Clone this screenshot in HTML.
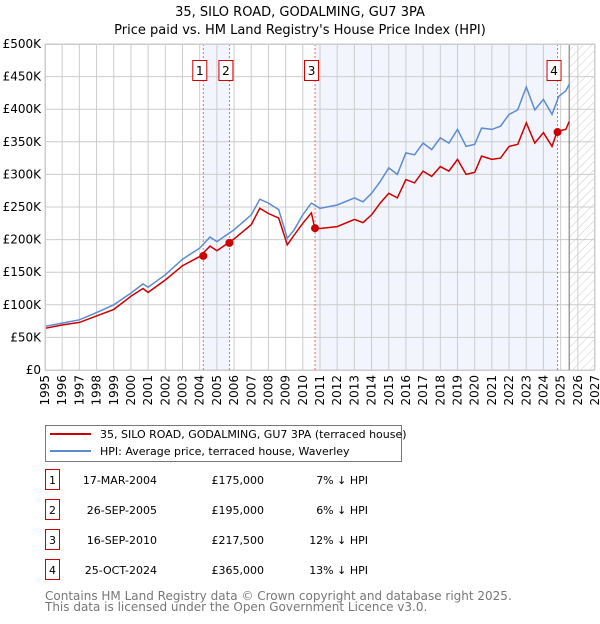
<!DOCTYPE html>
<html><head><meta charset="utf-8"><style>
body{margin:0;background:#fff;font-family:"DejaVu Sans","Liberation Sans",sans-serif;}
svg text{font-family:"DejaVu Sans","Liberation Sans",sans-serif;}
</style></head><body>
<svg id="chart" width="600" height="620" xmlns="http://www.w3.org/2000/svg">
<defs><pattern id="hatch" width="6" height="6" patternUnits="userSpaceOnUse" patternTransform="rotate(45)"><line x1="0" y1="0" x2="0" y2="6" stroke="#ccc" stroke-width="1"/></pattern></defs>
<text x="300" y="16" text-anchor="middle" font-size="13">35, SILO ROAD, GODALMING, GU7 3PA</text>
<text x="300" y="34" text-anchor="middle" font-size="13">Price paid vs. HM Land Registry's House Price Index (HPI)</text>
<g id="plot"></g>
<g>
<rect x="45.5" y="425.5" width="356" height="36" fill="#fff" stroke="#777"/>
<line x1="50" y1="434" x2="91" y2="434" stroke="#cc0000" stroke-width="2"/>
<text x="100" y="438" font-size="11">35, SILO ROAD, GODALMING, GU7 3PA (terraced house)</text>
<line x1="50" y1="451" x2="91" y2="451" stroke="#5b8bd0" stroke-width="2"/>
<text x="100" y="455" font-size="11">HPI: Average price, terraced house, Waverley</text>
</g>
<g id="table"></g>
<text x="45" y="600" font-size="12" fill="#777">Contains HM Land Registry data © Crown copyright and database right 2025.</text>
<text x="45" y="611" font-size="12" fill="#777">This data is licensed under the Open Government Licence v3.0.</text>
</svg>
<script>
const hpiYears=[1995,1996,1997,1998,1999,2000,2000.7,2001,2002,2003,2004,2004.6,2005,2006,2007,2007.5,2008,2008.6,2009.1,2009.5,2010,2010.5,2011,2012,2013,2013.5,2014,2014.5,2015,2015.5,2016,2016.5,2017,2017.5,2018,2018.5,2019,2019.5,2020,2020.4,2021,2021.5,2022,2022.5,2023,2023.5,2024,2024.5,2024.9,2025.3,2025.5];
const hpiValues=[67,72,77,88,100,118,132,127,146,170,187,204,197,215,238,262,256,246,202,215,238,256,248,253,264,258,271,289,310,300,333,330,348,338,356,348,369,343,346,371,369,374,392,399,434,399,415,392,420,428,438];
const paidYears=[1995,1996,1997,1998,1999,2000,2000.7,2001,2002,2003,2004,2004.6,2005,2006,2007,2007.5,2008,2008.6,2009.1,2009.5,2010,2010.5,2010.7,2011,2012,2013,2013.5,2014,2014.5,2015,2015.5,2016,2016.5,2017,2017.5,2018,2018.5,2019,2019.5,2020,2020.4,2021,2021.5,2022,2022.5,2023,2023.5,2024,2024.5,2024.8,2025.3,2025.5];
const paidValues=[64,69,73,83,93,113,125,119,138,160,174,190,183,201,223,248,240,233,192,207,225,241,217,217,220,231,226,238,256,271,264,292,287,305,297,312,305,323,300,303,328,323,325,343,346,379,348,364,343,366,369,381];
const saleLabels=["1","2","3","4"];
const saleYears=[2004.21,2005.73,2010.71,2024.82];
const saleValues=[175,195,217.5,365];
const saleDates=["17-MAR-2004","26-SEP-2005","16-SEP-2010","25-OCT-2024"];
const salePrices=["£175,000","£195,000","£217,500","£365,000"];
const saleDiffs=["7% ↓ HPI","6% ↓ HPI","12% ↓ HPI","13% ↓ HPI"];
const yTicks=[0,50,100,150,200,250,300,350,400,450,500];
const yTickLabels=["£0","£50K","£100K","£150K","£200K","£250K","£300K","£350K","£400K","£450K","£500K"];
const xTicks=[1995,1996,1997,1998,1999,2000,2001,2002,2003,2004,2005,2006,2007,2008,2009,2010,2011,2012,2013,2014,2015,2016,2017,2018,2019,2020,2021,2022,2023,2024,2025,2026,2027];
const dataEnd=2025.5;
const X0=45,X1=595,Y0=370,Y1=44;
const x=v=>X0+(v-1995)/32*(X1-X0);
const y=v=>Y0-v/500*(Y0-Y1);
const NS="http://www.w3.org/2000/svg";
const plot=document.getElementById('plot');
function mk(tag,attrs,parent){const e=document.createElementNS(NS,tag);for(const k in attrs)e.setAttribute(k,attrs[k]);(parent||plot).appendChild(e);return e;}
let s1=mk('rect',{x:x(saleYears[0]),y:Y1,width:x(saleYears[1])-x(saleYears[0]),height:Y0-Y1,fill:'#f2f5fd'});


let s2=mk('rect',{x:x(saleYears[2]),y:Y1,width:x(saleYears[3])-x(saleYears[2]),height:Y0-Y1,fill:'#f2f5fd'});


let h=mk('rect',{x:x(dataEnd),y:Y1,width:X1-x(dataEnd),height:Y0-Y1,fill:'url(#hatch)'});


xTicks.forEach((t,i)=>{
 let l=mk('line',{x1:x(t),x2:x(t),y1:Y1,y2:Y0,stroke:'#cccccc','stroke-width':1});
 
 
 let tx=mk('text',{x:0,y:0,'font-size':12,'text-anchor':'end',transform:`translate(${x(t)+4},${Y0+5}) rotate(-90)`});
 tx.textContent=t;
 
 
});
yTicks.forEach((t,i)=>{
 let l=mk('line',{x1:X0,x2:X1,y1:y(t),y2:y(t),stroke:'#cccccc','stroke-width':1});
 
 
 let tx=mk('text',{x:X0-4,y:y(t)+4,'font-size':12,'text-anchor':'end'});
 tx.textContent=yTickLabels[i];
 
 
});
let dl=mk('line',{x1:x(dataEnd),x2:x(dataEnd),y1:Y1,y2:Y0,stroke:'#888','stroke-width':1.2});


saleYears.forEach((s,i)=>{
 let l=mk('line',{x1:x(s),x2:x(s),y1:Y1,y2:Y0,stroke:'#ee6666','stroke-width':1,'stroke-dasharray':'2,2'});
 
 
});
const path=(xs,vs)=>xs.map((v,i)=>(i?'L':'M')+x(v).toFixed(1)+','+y(vs[i]).toFixed(1)).join('');
let hp=mk('path',{d:path(hpiYears,hpiValues),fill:'none',stroke:'#5b8bd0','stroke-width':1.5});


let pp=mk('path',{d:path(paidYears,paidValues),fill:'none',stroke:'#cc0000','stroke-width':1.5});


saleYears.forEach((s,i)=>{
 let c=mk('circle',{cx:x(s),cy:y(saleValues[i]),r:4,fill:'#cc0000'});
 
 
 let g=mk('g',{});
 
 
 mk('rect',{x:x(s)-10.5,y:60.5,width:14,height:20,fill:'#fff',stroke:'#cc0000'},g);
 let t=mk('text',{x:x(s)-3.5,y:75,'font-size':12,'text-anchor':'middle'},g);
 t.textContent=saleLabels[i];
});
let b=mk('rect',{x:X0+.5,y:Y1+.5,width:X1-X0-1,height:Y0-Y1,fill:'none',stroke:'#cccccc'});


const tb=document.getElementById('table');
saleLabels.forEach((lab,i)=>{
 const ry=483+i*30;
 let g=mk('g',{},tb);
 
 
 mk('rect',{x:45.5,y:ry-13.5,width:14,height:20,fill:'#fff',stroke:'#cc0000'},g);
 let t0=mk('text',{x:52.5,y:ry+1,'font-size':11,'text-anchor':'middle'},g);t0.textContent=lab;
 let t1=mk('text',{x:157,y:ry+1,'font-size':11,'text-anchor':'end'},g);t1.textContent=saleDates[i];
 let t2=mk('text',{x:264,y:ry+1,'font-size':11,'text-anchor':'end'},g);t2.textContent=salePrices[i];
 let t3=mk('text',{x:368,y:ry+1,'font-size':11,'text-anchor':'end'},g);t3.textContent=saleDiffs[i];
});
</script>
</body></html>
